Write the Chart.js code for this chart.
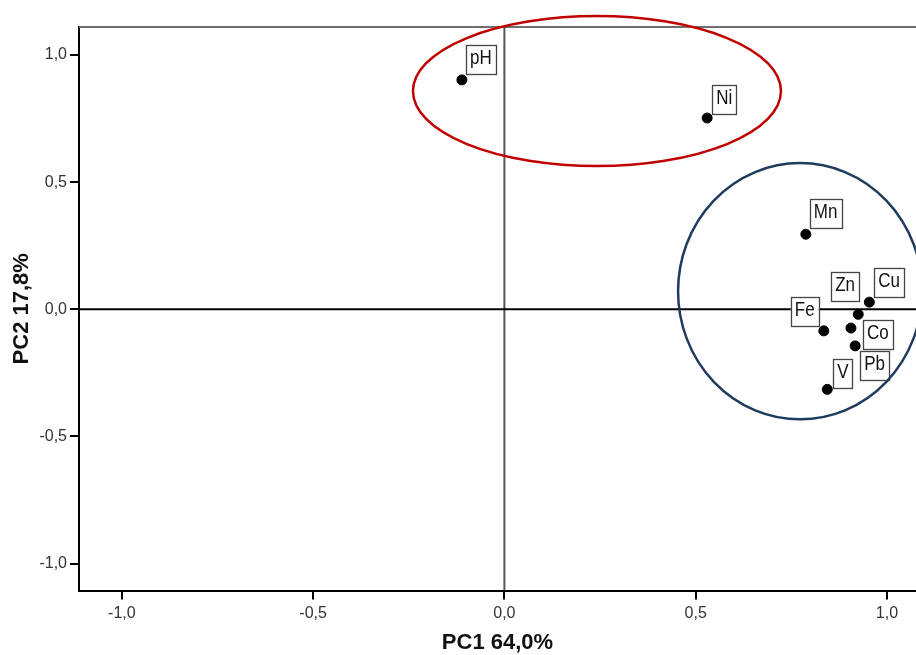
<!DOCTYPE html>
<html>
<head>
<meta charset="utf-8">
<script src="https://cdn.jsdelivr.net/npm/chart.js@4"></script>
<style>
html,body{margin:0;padding:0;background:#fff;}
#wrap{width:916px;height:655px;position:relative;}
</style>
</head>
<body>
<div id="wrap"><canvas id="c"></canvas></div>
<script>
// ---- data ----
const variables = ['pH', 'Ni', 'Mn', 'Cu', 'Zn', 'Co', 'Fe', 'Pb', 'V'];
const pc1 = [-0.111, 0.530, 0.788, 0.954, 0.925, 0.906, 0.835, 0.917, 0.844];
const pc2 = [0.902, 0.752, 0.295, 0.028, -0.020, -0.074, -0.085, -0.144, -0.315];
const tickValues = [-1.0, -0.5, 0.0, 0.5, 1.0];
const xTitle = 'PC1 64,0%';
const yTitle = 'PC2 17,8%';
// groups circled in the plot: centre (pc1, pc2) and radii in axis units
const groupCenterX = [0.242, 0.773];
const groupCenterY = [0.858, 0.071];
const groupRadiusX = [0.481, 0.319];
const groupRadiusY = [0.295, 0.504];

// ---- styling (label placement in px relative to the point) ----
const labelPlacement = {
  pH: {dx: 4, dy: -35}, Ni: {dx: 5, dy: -33}, Mn: {dx: 4, dy: -35},
  Cu: {dx: 5, dy: -34}, Zn: {dx: 1, dy: -42, right: true}, Co: {dx: 12, dy: -8},
  Fe: {dx: -5, dy: -34, right: true}, Pb: {dx: 5, dy: 5}, V: {dx: 6, dy: -30}
};
const groupColors = ['#c00000', '#1f3b5e'];
const FONT = '"Liberation Sans", Arial, sans-serif';

const points = variables.map((v, i) => ({x: pc1[i], y: pc2[i], label: v}));
const fmt = v => v.toFixed(1).replace('.', ',');

const decor = {
  id: 'decor',
  beforeDatasetsDraw(chart) {
    const {ctx, chartArea: a, scales: {x, y}} = chart;
    ctx.save();
    // top frame line
    ctx.strokeStyle = '#6e6e6e'; ctx.lineWidth = 2;
    ctx.beginPath(); ctx.moveTo(a.left, a.top); ctx.lineTo(a.right, a.top); ctx.stroke();
    // vertical zero line
    const x0 = x.getPixelForValue(0);
    ctx.strokeStyle = '#555'; ctx.lineWidth = 2;
    ctx.beginPath(); ctx.moveTo(x0, a.top); ctx.lineTo(x0, a.bottom); ctx.stroke();
    // horizontal zero line
    const y0 = y.getPixelForValue(0);
    ctx.strokeStyle = '#000'; ctx.lineWidth = 2;
    ctx.beginPath(); ctx.moveTo(a.left, y0); ctx.lineTo(a.right, y0); ctx.stroke();
    ctx.restore();
  },
  afterDatasetsDraw(chart) {
    const {ctx, scales: {x, y}} = chart;
    ctx.save();
    // labels
    ctx.font = '17px ' + FONT;
    ctx.textBaseline = 'middle';
    ctx.textAlign = 'left';
    const meta = chart.getDatasetMeta(0);
    meta.data.forEach((el, i) => {
      const name = variables[i];
      const p = labelPlacement[name] || {dx: 4, dy: -34};
      const tw = ctx.measureText(name).width;
      const w = Math.round(tw + 8), h = 29;
      const left = p.right ? el.x + p.dx - w : el.x + p.dx;
      const top = el.y + p.dy;
      ctx.fillStyle = '#fff';
      ctx.fillRect(left, top, w, h);
      ctx.strokeStyle = '#444'; ctx.lineWidth = 1.3;
      ctx.strokeRect(Math.round(left) + 0.5, Math.round(top) + 0.5, w, h);
      ctx.fillStyle = '#111';
      ctx.save();
      ctx.translate(left + 4, top + h / 2 - 1);
      ctx.scale(1, 1.15);
      ctx.fillText(name, 0, 0);
      ctx.restore();
    });
    // group ellipses
    ctx.lineWidth = 2.5;
    groupCenterX.forEach((cx, i) => {
      const px = x.getPixelForValue(cx), py = y.getPixelForValue(groupCenterY[i]);
      const rx = Math.abs(x.getPixelForValue(cx + groupRadiusX[i]) - px);
      const ry = Math.abs(y.getPixelForValue(groupCenterY[i] + groupRadiusY[i]) - py);
      ctx.strokeStyle = groupColors[i];
      ctx.beginPath(); ctx.ellipse(px, py, rx, ry, 0, 0, Math.PI * 2); ctx.stroke();
    });
    ctx.restore();
  }
};

new Chart(document.getElementById('c'), {
  type: 'scatter',
  data: {
    datasets: [{
      data: points,
      backgroundColor: '#000', borderColor: '#000',
      pointRadius: 5, pointHoverRadius: 5
    }]
  },
  options: {
    responsive: true, maintainAspectRatio: false, animation: false,
    layout: {autoPadding: false, padding: {top: 27, right: 0, bottom: 0, left: 0}},
    plugins: {legend: {display: false}, tooltip: {enabled: false}},
    scales: {
      x: {
        type: 'linear', min: -1.112, max: 1.076,
        afterBuildTicks: s => { s.ticks = tickValues.map(v => ({value: v})); },
        afterFit: s => { s.height = 64.5; s.paddingLeft = 0; s.paddingRight = 0; },
        border: {display: true, color: '#000', width: 2},
        grid: {drawOnChartArea: false, drawTicks: true, tickLength: 9, color: '#000', lineWidth: 2},
        ticks: {callback: v => fmt(v), color: '#333', font: {family: FONT, size: 16}, padding: 4, maxRotation: 0},
        title: {display: true, text: xTitle, color: '#111', font: {family: FONT, size: 22, weight: 'bold', lineHeight: 1}, padding: {top: 0, bottom: 1}}
      },
      y: {
        type: 'linear', min: -1.106, max: 1.110,
        afterBuildTicks: s => { s.ticks = tickValues.map(v => ({value: v})); },
        afterFit: s => { s.width = 79; s.paddingTop = 0; s.paddingBottom = 0; },
        border: {display: true, color: '#000', width: 2},
        grid: {drawOnChartArea: false, drawTicks: true, tickLength: 9, color: '#000', lineWidth: 2},
        ticks: {callback: v => fmt(v), color: '#333', font: {family: FONT, size: 16}, padding: 3},
        title: {display: true, text: yTitle, color: '#111', font: {family: FONT, size: 22, weight: 'bold', lineHeight: 1}, padding: {top: 11, bottom: 0}}
      }
    }
  },
  plugins: [decor]
});
</script>
</body>
</html>
